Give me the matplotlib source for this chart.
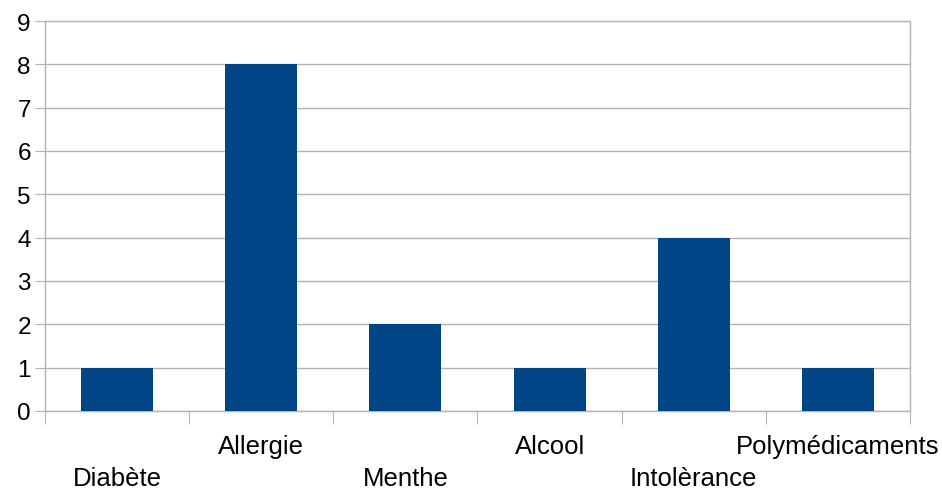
import matplotlib
matplotlib.use("Agg")
import matplotlib.pyplot as plt

categories = ["Diabète", "Allergie", "Menthe", "Alcool", "Intolèrance", "Polymédicaments"]
values = [1, 8, 2, 1, 4, 1]

plt.rcParams['font.family'] = ['Liberation Sans', 'DejaVu Sans']
grid_col = '#b3b3b3'

fig = plt.figure(figsize=(9.42, 4.89), dpi=100)
ax = fig.add_axes([45/942, 1-412/489, 865/942, 390/489])

pos = list(range(len(categories)))
ax.bar(pos, values, width=0.5, color='#004586', zorder=3)

ax.set_xlim(-0.5, len(categories) - 0.5)
ax.set_ylim(0, 9)
ax.set_yticks(range(10))
ax.tick_params(axis='y', length=7.2, color=grid_col, labelsize=17.5, pad=3)
ax.yaxis.grid(True, color=grid_col, linewidth=1, zorder=0)

# boundary ticks between categories
ax.set_xticks([p - 0.5 for p in pos] + [pos[-1] + 0.5])
ax.set_xticklabels([])
ax.tick_params(axis='x', length=9, color=grid_col)

for s in ax.spines.values():
    s.set_color(grid_col)
    s.set_linewidth(1)

# staggered category labels
for i, (p, name) in enumerate(zip(pos, categories)):
    off = -48 if i % 2 == 0 else -25
    ax.annotate(name, xy=(p, 0), xycoords=('data', 'axes fraction'),
                xytext=(0, off), textcoords='offset points',
                ha='center', va='center', fontsize=18.5, annotation_clip=False)

fig.savefig('out.png', dpi=100)
